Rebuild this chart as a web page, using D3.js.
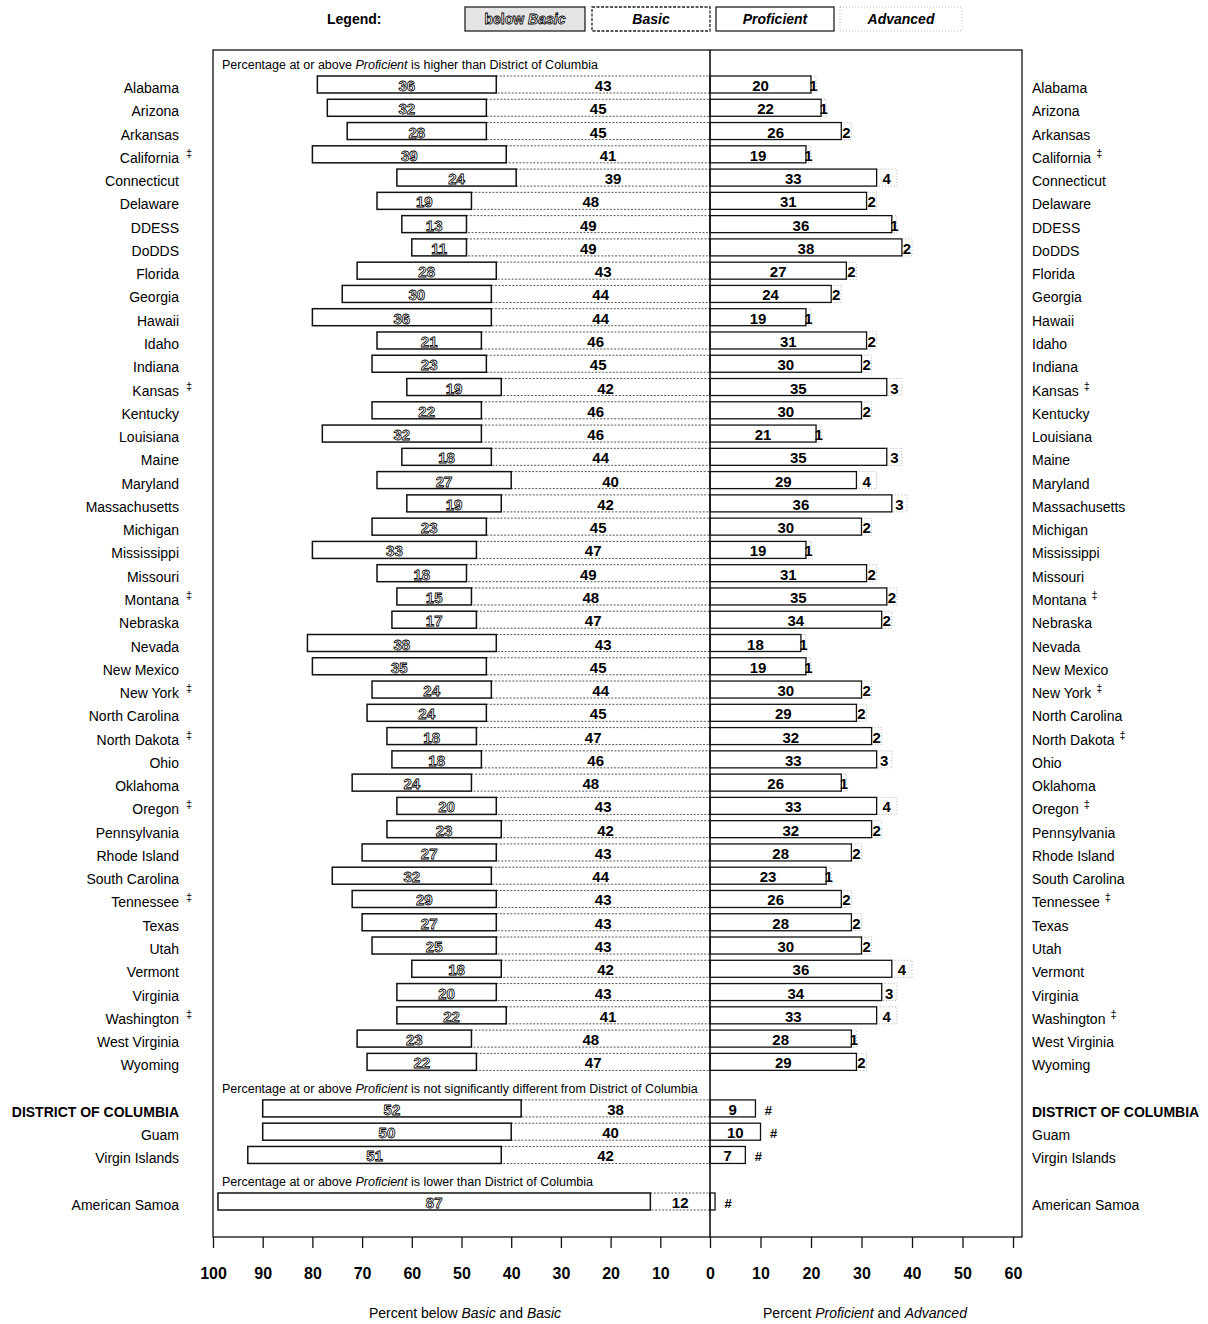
<!DOCTYPE html>
<html>
<head>
<meta charset="utf-8">
<script src="https://cdn.jsdelivr.net/npm/d3@7"></script>
<style>
  body { margin: 0; background: #fff; }
  svg text { font-family: "Liberation Sans", Arial, Helvetica, sans-serif; }
</style>
</head>
<body>
<svg id="chart" width="1208" height="1324"></svg>
<script>
// row names, top to bottom
const rowNames = ["Alabama", "Arizona", "Arkansas", "California", "Connecticut", "Delaware", "DDESS", "DoDDS",
  "Florida", "Georgia", "Hawaii", "Idaho", "Indiana", "Kansas", "Kentucky", "Louisiana", "Maine", "Maryland",
  "Massachusetts", "Michigan", "Mississippi", "Missouri", "Montana", "Nebraska", "Nevada", "New Mexico",
  "New York", "North Carolina", "North Dakota", "Ohio", "Oklahoma", "Oregon", "Pennsylvania", "Rhode Island",
  "South Carolina", "Tennessee", "Texas", "Utah", "Vermont", "Virginia", "Washington", "West Virginia", "Wyoming",
  "DISTRICT OF COLUMBIA", "Guam", "Virgin Islands",
  "American Samoa"];
const daggerRows = ["California", "Kansas", "Montana", "New York", "North Dakota", "Oregon", "Tennessee", "Washington"];
const boldRows = ["DISTRICT OF COLUMBIA"];

// groups (in row order) and their headings
const groupSizes = [43, 3, 1];
const groupPhrases = ["is higher than District of Columbia",
  "is not significantly different from District of Columbia",
  "is lower than District of Columbia"];

// percentages per row
const belowBasic = [36, 32, 28, 39, 24, 19, 13, 11, 28, 30, 36, 21, 23, 19, 22, 32, 18, 27, 19, 23, 33, 18, 15, 17,
  38, 35, 24, 24, 18, 18, 24, 20, 23, 27, 32, 29, 27, 25, 18, 20, 22, 23, 22,
  52, 50, 51, 87];
const basic = [43, 45, 45, 41, 39, 48, 49, 49, 43, 44, 44, 46, 45, 42, 46, 46, 44, 40, 42, 45, 47, 49, 48, 47,
  43, 45, 44, 45, 47, 46, 48, 43, 42, 43, 44, 43, 43, 43, 42, 43, 41, 48, 47,
  38, 40, 42, 12];
const proficient = [20, 22, 26, 19, 33, 31, 36, 38, 27, 24, 19, 31, 30, 35, 30, 21, 35, 29, 36, 30, 19, 31, 35, 34,
  18, 19, 30, 29, 32, 33, 26, 33, 32, 28, 23, 26, 28, 30, 36, 34, 33, 28, 29,
  9, 10, 7, 1];
// 0 = rounds to zero, printed as "#"
const advanced = [1, 1, 2, 1, 4, 2, 1, 2, 2, 2, 1, 2, 2, 3, 2, 1, 3, 4, 3, 2, 1, 2, 2, 2,
  1, 1, 2, 2, 2, 3, 1, 4, 2, 2, 1, 2, 2, 2, 4, 3, 4, 1, 2,
  0, 0, 0, 0];

const tickValues = [-100, -90, -80, -70, -60, -50, -40, -30, -20, -10, 0, 10, 20, 30, 40, 50, 60];

const svg = d3.select("#chart");

const frame = { left: 213, right: 1022, top: 50, bottom: 1237 };

// left half (below Basic / Basic) and right half (Proficient / Advanced) share the 0 line
const x = d3.scaleLinear().domain([-100, 0, 60]).range([213, 710, 1013]);

// each group leaves one empty slot for its heading
let groupOfRow = [];
groupSizes.forEach((n, g) => { for (let i = 0; i < n; i++) groupOfRow.push(g); });
const slotOf = rowNames.map((d, i) => i + groupOfRow[i]);
const lastSlot = d3.max(slotOf);
const y = d3.scaleLinear().domain([0, lastSlot]).range([84.5, 1201.5]);
const barH = 17;

const rows = rowNames.map((name, i) => ({
  name: name,
  slot: slotOf[i],
  bb: belowBasic[i],
  b: basic[i],
  p: proficient[i],
  a: advanced[i],
  dagger: daggerRows.indexOf(name) != -1,
  bold: boldRows.indexOf(name) != -1
}));

// ---- legend ----
const legendItems = [
  { key: "below", x0: 465, x1: 585 },
  { key: "Basic", x0: 592, x1: 710 },
  { key: "Proficient", x0: 716, x1: 834 },
  { key: "Advanced", x0: 840, x1: 962 }
];
svg.append("text").attr("x", 327).attr("y", 24).attr("font-size", 14).attr("font-weight", "bold").text("Legend:");
const lg = svg.append("g");
lg.selectAll("rect").data(legendItems).enter().append("rect")
  .attr("x", d => d.x0).attr("y", 7).attr("width", d => d.x1 - d.x0).attr("height", 24)
  .attr("fill", d => d.key == "below" ? "#e4e4e4" : "#fff")
  .attr("stroke", d => d.key == "Advanced" ? "#aaa" : "#222")
  .attr("stroke-width", d => d.key == "Advanced" ? 0.8 : 1.3)
  .attr("stroke-dasharray", d => d.key == "Basic" ? "3,1.5" : (d.key == "Advanced" ? "1,2" : null));
const lt = lg.selectAll("text").data(legendItems).enter().append("text")
  .attr("x", d => (d.x0 + d.x1) / 2).attr("y", 24)
  .attr("text-anchor", "middle").attr("font-size", 14).attr("font-weight", "bold");
lt.filter(d => d.key == "below")
  .attr("fill", "#fff").attr("stroke", "#000").attr("stroke-width", 0.8)
  .html('below <tspan font-style="italic">Basic</tspan>');
lt.filter(d => d.key != "below").attr("font-style", "italic").text(d => d.key);

// ---- frame ----
svg.append("rect")
  .attr("x", frame.left).attr("y", frame.top)
  .attr("width", frame.right - frame.left).attr("height", frame.bottom - frame.top)
  .attr("fill", "none").attr("stroke", "#111").attr("stroke-width", 1.3);

// ---- group headings ----
const firstSlots = groupSizes.map((n, g) => slotOf[groupOfRow.indexOf(g)]);
svg.selectAll(".heading").data(groupPhrases).enter().append("text")
  .attr("class", "heading")
  .attr("x", 222)
  .attr("y", (d, g) => y(firstSlots[g] - 0.85) + 4.5)
  .attr("font-size", 12.5)
  .html(d => 'Percentage at or above <tspan font-style="italic">Proficient</tspan> ' + d);

// ---- bars ----
const bars = svg.append("g");
const barTop = d => y(d.slot) - barH / 2;

// Basic (dotted outline)
bars.selectAll(".basic").data(rows).enter().append("rect")
  .attr("class", "basic")
  .attr("x", d => x(-d.b)).attr("y", barTop)
  .attr("width", d => x(0) - x(-d.b)).attr("height", barH)
  .attr("fill", "#fff").attr("stroke", "#555").attr("stroke-width", 1).attr("stroke-dasharray", "2,1.5");
// below Basic (solid outline)
bars.selectAll(".below").data(rows).enter().append("rect")
  .attr("class", "below")
  .attr("x", d => x(-(d.b + d.bb))).attr("y", barTop)
  .attr("width", d => x(-d.b) - x(-(d.b + d.bb))).attr("height", barH)
  .attr("fill", "#fff").attr("stroke", "#111").attr("stroke-width", 1.5);
// Advanced (faint outline)
bars.selectAll(".adv").data(rows.filter(d => d.a > 0)).enter().append("rect")
  .attr("class", "adv")
  .attr("x", d => x(d.p)).attr("y", barTop)
  .attr("width", d => x(d.p + d.a) - x(d.p)).attr("height", barH)
  .attr("fill", "#fff").attr("stroke", "#999").attr("stroke-width", 0.8).attr("stroke-dasharray", "1,2");
// Proficient (solid outline)
bars.selectAll(".prof").data(rows).enter().append("rect")
  .attr("class", "prof")
  .attr("x", x(0)).attr("y", barTop)
  .attr("width", d => x(d.p) - x(0)).attr("height", barH)
  .attr("fill", "#fff").attr("stroke", "#111").attr("stroke-width", 1.3);

// ---- bar labels ----
const labels = svg.append("g").attr("font-size", 15).attr("font-weight", "bold").attr("text-anchor", "middle");
const base = d => y(d.slot) + 6.5;
labels.selectAll(".lb").data(rows).enter().append("text")
  .attr("x", d => x(-(d.b + d.bb / 2))).attr("y", base)
  .attr("fill", "#fff").attr("stroke", "#000").attr("stroke-width", 0.8)
  .text(d => d.bb);
labels.selectAll(".lbasic").data(rows).enter().append("text")
  .attr("x", d => x(-d.b / 2)).attr("y", base)
  .text(d => d.b);
labels.selectAll(".lprof").data(rows.filter(d => d.p >= 3)).enter().append("text")
  .attr("x", d => x(d.p / 2)).attr("y", base)
  .text(d => d.p);
labels.selectAll(".ladv").data(rows).enter().append("text")
  .attr("x", d => d.a > 0 ? x(d.p + d.a / 2) : x(d.p) + 13)
  .attr("y", base)
  .attr("font-size", d => d.a > 0 ? 15 : 13)
  .text(d => d.a > 0 ? d.a : "#");

// ---- zero line ----
svg.append("line")
  .attr("x1", x(0)).attr("x2", x(0)).attr("y1", frame.top).attr("y2", frame.bottom)
  .attr("stroke", "#111").attr("stroke-width", 1.6);

// ---- row labels, both sides ----
const rowText = (sel, anchor, xPos) => {
  const t = sel.selectAll("text").data(rows).enter().append("text")
    .attr("x", xPos).attr("y", d => y(d.slot) + 8.5)
    .attr("text-anchor", anchor)
    .attr("font-size", 14)
    .attr("font-weight", d => d.bold ? "bold" : null)
    .text(d => d.name);
  return t;
};
rowText(svg.append("g"), "end", 179);
rowText(svg.append("g"), "start", 1032)
  .filter(d => d.dagger)
  .append("tspan").attr("dx", 5).attr("dy", -6).attr("font-size", 11).text("‡");
svg.append("g").selectAll("text").data(rows.filter(d => d.dagger)).enter().append("text")
  .attr("x", 186).attr("y", d => y(d.slot) + 2.5)
  .attr("font-size", 11).text("‡");

// ---- axis ----
const axis = svg.append("g")
  .attr("transform", `translate(0,${frame.bottom})`)
  .call(d3.axisBottom(x).tickValues(tickValues).tickFormat(d => Math.abs(d)).tickSize(11).tickPadding(20));
axis.select(".domain").remove();
axis.selectAll(".tick line").attr("stroke", "#111").attr("stroke-width", 1.3);
axis.selectAll(".tick text")
  .attr("font-family", "'Liberation Sans', Arial, sans-serif")
  .attr("font-size", 16).attr("font-weight", "bold").attr("fill", "#000");

svg.append("text").attr("x", 465).attr("y", 1318).attr("text-anchor", "middle").attr("font-size", 14)
  .html('Percent below <tspan font-style="italic">Basic</tspan> and <tspan font-style="italic">Basic</tspan>');
svg.append("text").attr("x", 865).attr("y", 1318).attr("text-anchor", "middle").attr("font-size", 14)
  .html('Percent <tspan font-style="italic">Proficient</tspan> and <tspan font-style="italic">Advanced</tspan>');
</script>
</body>
</html>
